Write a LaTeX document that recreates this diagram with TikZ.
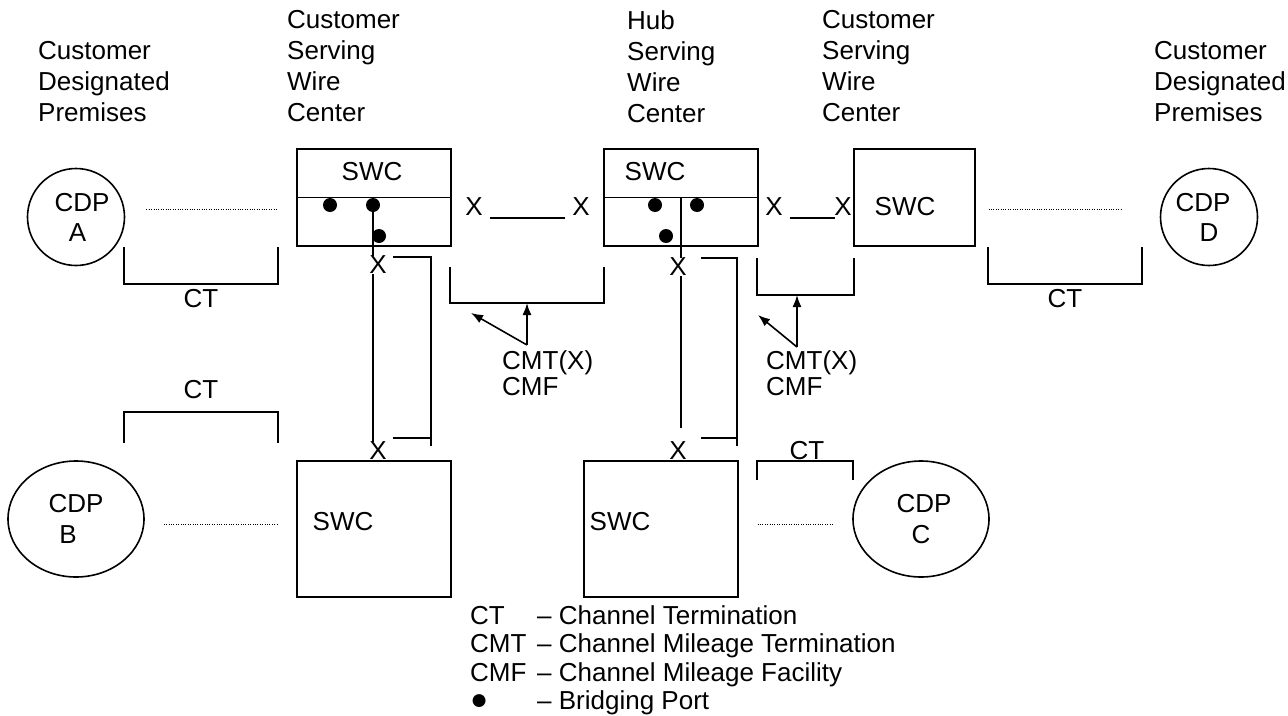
\documentclass[tikz,border=0pt]{standalone}
\usepackage{fontspec}
\setmainfont{Liberation Sans}
\usetikzlibrary{positioning}
\usetikzlibrary{arrows.meta, shapes, calc}

\begin{document}
\begin{tikzpicture}[x=1pt, y=-1pt, >={Latex[length=12pt, width=9pt]}, font=\fontsize{26}{31}\selectfont]%
            \tikzstyle{swc} = [ rectangle, draw = black, line width = 1.3pt, inner sep = 0pt]
            \tikzstyle{cdp} = [ circle, draw = black, line width = 1.6pt, inner sep = 0pt, align = center, minimum size = 97pt, font = \fontsize{26}{30}\selectfont]
            \tikzstyle{cdpe} = [ ellipse, draw = black, line width = 1.6pt, inner sep = 0pt, align = center, minimum width = 136pt, minimum height = 116pt, font = \fontsize{26}{31}\selectfont]
            \tikzstyle{port} = [ circle, fill = black, inner sep = 0pt, minimum size = 14pt]
            \tikzstyle{txt} = [ inner sep = 0pt, align = left]
            \tikzstyle{brk} = [ line width = 2.4pt]
            \tikzstyle{vline} = [ line width = 1.8pt]
            \tikzstyle{dotline} = [ line width = 0.9pt, dash pattern = on 1pt off 1.4pt]
            \tikzstyle{cmt} = [ ->, line width = 1.6pt]
            \tikzstyle{every node} = [ inner sep = 0pt]%
        %%
            \useasboundingbox (0,0) rectangle (1288,715);
            \begin{scope}%
                %% Column headings
                \node [txt, anchor = north west] (hd_cdpl) at (38,41)   {Customer\\Designated\\Premises};
                \node [txt, anchor = north west] (hd_cswl) at (287,10)  {Customer\\Serving\\Wire\\Center};
                \node [txt, anchor = north west] (hd_hub)  at (627,10)  {Hub\\Serving\\Wire\\Center};
                \node [txt, anchor = north west] (hd_cswr) at (822,10)  {Customer\\Serving\\Wire\\Center};
                \node [txt, anchor = north west] (hd_cdpr) at (1154,41) {Customer\\Designated\\Premises};

                %% Premises
                \node [cdp]  (cdp_a) at (76,217)   {\hspace*{12pt}CDP\\\hspace*{3pt}A};
                \node [cdp]  (cdp_d) at (1209,217) {CDP\hspace*{12pt}\\D};
                \node [cdpe] (cdp_b) at (76,519)   {CDP\\B\hspace*{16pt}};
                \node [cdpe] (cdp_c) at (921,519)  {\hspace*{6pt}CDP\\C};

                %% Wire centers
                \node [swc, minimum width = 154pt, minimum height = 97pt]  (swc_a) at (374,197.5) {};
                \node [swc, minimum width = 154pt, minimum height = 97pt]  (hub)   at (681,197.5) {};
                \node [swc, minimum width = 121pt, minimum height = 97pt]  (swc_d) at (914.5,197.5) {};
                \node [swc, minimum width = 154pt, minimum height = 136pt] (swc_b) at (374,529) {};
                \node [swc, minimum width = 154pt, minimum height = 136pt] (swc_c) at (661,529) {};
                \node (swc_at) at (372,172) {SWC};
                \node (hub_t)  at (655,172) {SWC};
                \node (swc_dt) at (905,207) {SWC};
                \node (swc_bt) at (343,522) {SWC};
                \node (swc_ct) at (620,522) {SWC};
                \draw [line width = 1.3pt] (swc_a.west) -- (swc_a.east);
                \draw [line width = 1.3pt] (hub.west) -- (hub.east);

                %% Bridging ports
                \node [port] (pa1) at (330,205) {};
                \node [port] (pa2) at (373,205) {};
                \node [port] (pa3) at (379,236) {};
                \node [port] (ph1) at (655,205) {};
                \node [port] (ph2) at (697,205) {};
                \node [port] (ph3) at (666,236) {};

                %% Mileage points
                \node (xa1) at (378,265) {X};
                \node (xa2) at (378,451) {X};
                \node (xh1) at (678,267) {X};
                \node (xh2) at (678,451) {X};
                \node (xm1) at (474,207) {X};
                \node (xm2) at (581,207) {X};
                \node (xr1) at (774,207) {X};
                \node (xr2) at (843,207) {X};

                \draw [vline] (pa2.center) -- (pa2.center |- xa1.north);
                \draw [vline] (pa2.center |- xa1.south) -- (pa2.center |- xa2.north);
                \draw [vline] (hub.center) -- (hub.center |- xh1.north);
                \draw [vline] (hub.center |- xh1.south) -- ([yshift = 14pt]hub.center |- xh2.north);
                \draw [line width = 1.3pt] ([xshift = 7pt, yshift = -2pt]xm1.south east) -- ([xshift = -7pt, yshift = -2pt]xm2.south west);
                \draw [line width = 1.3pt] ([xshift = 7pt, yshift = -2pt]xr1.south east) -- ([xshift = 1pt, yshift = -2pt]xr2.south west);

                \draw [brk] (393,257) -- (431,257) -- (431,446);
                \draw [brk] (393,438) -- (431,438);
                \draw [brk] (701,258) -- (737,258) -- (737,446);
                \draw [brk] (701,438) -- (737,438);

                %% Local loops
                \draw [dotline] ($(cdp_a.east) + (21,-8)$) -- ($(swc_a.west) + (-19,11.5)$);
                \draw [dotline] ($(swc_d.east) + (13,11.5)$) -- ($(cdp_d.west) + (-38.5,-8)$);
                \draw [dotline] ($(cdp_b.east) + (19,5)$) -- ($(swc_b.west) + (-19,-5)$);
                \draw [dotline] ($(swc_c.east) + (19,-5)$) -- ($(cdp_c.west) + (-18,5)$);

                %% Channel terminations
                \draw [brk] (124,247) -- (124,284) -- (278,284) -- (278,247);
                \draw [brk] (988,247) -- (988,284) -- (1142,284) -- (1142,247);
                \draw [brk] (124,443) -- (124,412) -- (278,412) -- (278,443);
                \draw [brk] (757,480) -- (757,461) -- (853,461) -- (853,480);
                \node (ct_a) at (201,299)  {CT};
                \node (ct_d) at (1065,299) {CT};
                \node (ct_b) at (201,390)  {CT};
                \node (ct_c) at (807,451)  {CT};

                %% Channel mileage
                \draw [brk] (450,267) -- (450,303) -- (604,303) -- (604,267);
                \draw [brk] (757,258) -- (757,295) -- (854,295) -- (854,258);
                \coordinate (cmt_m) at (527,345);
                \coordinate (cmt_r) at (797,347);
                \draw [cmt] (cmt_m) -- (527,303);
                \draw [cmt] (cmt_m) -- (471,313);
                \draw [cmt] (cmt_r) -- (797,295);
                \draw [cmt] (cmt_r) -- (758,315);
                \node [txt, anchor = north west, font = \fontsize{26}{26}\selectfont] (cmt_mt) at (502,350) {CMT(X)\\CMF};
                \node [txt, anchor = north west, font = \fontsize{26}{26}\selectfont] (cmt_rt) at (766,350) {CMT(X)\\CMF};

                %% Legend
                \node [txt, anchor = north west, font = \fontsize{26}{28.5}\selectfont] (legend) at (470,604)
                    {\begin{tabular}{@{}l@{\hspace{10.7pt}}l@{}}
                        CT  & – Channel Termination\\
                        CMT & – Channel Mileage Termination\\
                        CMF & – Channel Mileage Facility\\
                        {\fontsize{30}{28.5}\selectfont ●} & – Bridging Port
                     \end{tabular}};
            \end{scope}%
        \end{tikzpicture}
\end{document}
